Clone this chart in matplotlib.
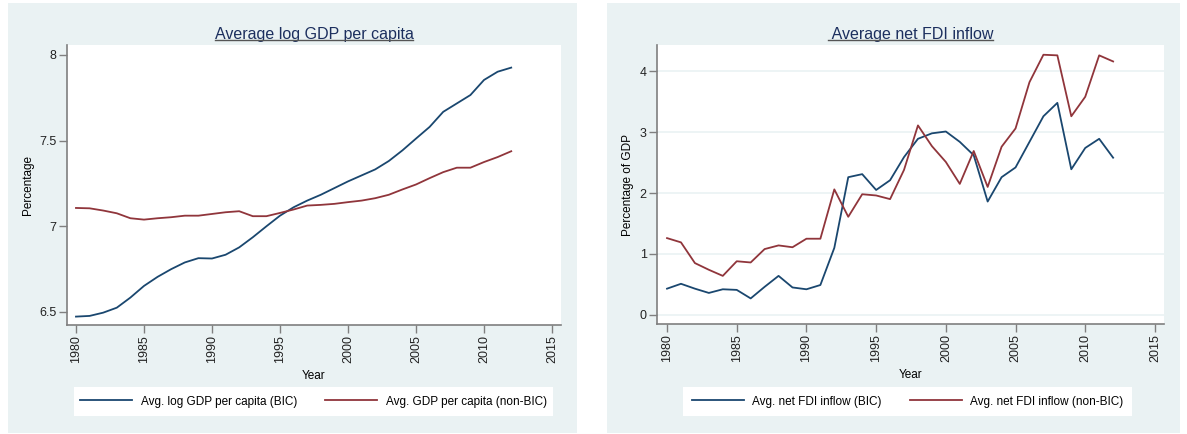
import matplotlib
matplotlib.use("Agg")
import matplotlib.pyplot as plt
from matplotlib.patches import Rectangle
from matplotlib.lines import Line2D

plt.rcParams["font.family"] = ["Liberation Sans", "DejaVu Sans"]

years = list(range(1980, 2013))

gdp_bic = [6.473, 6.477, 6.496, 6.525, 6.584, 6.652, 6.705, 6.750, 6.789, 6.814,
           6.812, 6.834, 6.877, 6.936, 7.000, 7.062, 7.111, 7.150, 7.184, 7.223,
           7.262, 7.297, 7.332, 7.381, 7.443, 7.512, 7.580, 7.668, 7.717, 7.766,
           7.854, 7.902, 7.926]
gdp_nonbic = [7.107, 7.105, 7.092, 7.076, 7.047, 7.039, 7.047, 7.053, 7.062, 7.062,
              7.072, 7.082, 7.088, 7.059, 7.059, 7.078, 7.098, 7.121, 7.125, 7.131,
              7.141, 7.150, 7.164, 7.184, 7.215, 7.244, 7.281, 7.316, 7.342, 7.342,
              7.375, 7.404, 7.438]

fdi_bic = [0.43, 0.51, 0.43, 0.36, 0.42, 0.41, 0.27, 0.46, 0.64, 0.45,
           0.42, 0.49, 1.10, 2.26, 2.31, 2.05, 2.21, 2.59, 2.89, 2.98,
           3.01, 2.84, 2.62, 1.86, 2.26, 2.42, 2.84, 3.26, 3.48, 2.39,
           2.74, 2.89, 2.58]
fdi_nonbic = [1.26, 1.19, 0.85, 0.74, 0.64, 0.88, 0.86, 1.08, 1.14, 1.11,
              1.25, 1.25, 2.06, 1.61, 1.98, 1.96, 1.90, 2.38, 3.11, 2.77,
              2.51, 2.15, 2.69, 2.10, 2.76, 3.06, 3.82, 4.27, 4.26, 3.26,
              3.58, 4.26, 4.16]

x_ticks = [1980, 1985, 1990, 1995, 2000, 2005, 2010, 2015]

NAVY = "#1a476f"
MAROON = "#90353b"
PANEL_BG = "#eaf2f3"
AXIS_GREY = "#7f7f7f"
TITLE_COL = "#1c2f5e"

W, H = 1187, 434
fig = plt.figure(figsize=(W / 100, H / 100), dpi=100)


def fbox(x0, y0, x1, y1):
    # pixel box (top-left origin) -> figure fraction [left, bottom, w, h]
    return [x0 / W, 1 - y1 / H, (x1 - x0) / W, (y1 - y0) / H]


# panel backgrounds, kept under the axes
for x0, x1 in [(8, 577), (607, 1180)]:
    l, b, w, h = fbox(x0, 3, x1, 433)
    fig.patches.append(Rectangle((l, b), w, h, transform=fig.transFigure,
                                 facecolor=PANEL_BG, edgecolor="none", zorder=-2))


def style_axes(ax, xlim, ylim, yticks, grid=False):
    ax.set_zorder(1)
    ax.set_facecolor("white")
    ax.set_xlim(*xlim)
    ax.set_ylim(*ylim)
    ax.set_xticks(x_ticks)
    ax.set_xticklabels([str(t) for t in x_ticks], rotation=90)
    ax.set_yticks(yticks)
    for s in ["top", "right"]:
        ax.spines[s].set_visible(False)
    for s in ["left", "bottom"]:
        ax.spines[s].set_color(AXIS_GREY)
        ax.spines[s].set_linewidth(1.2)
    ax.tick_params(direction="out", length=5.5, width=1, color=AXIS_GREY,
                   labelsize=9, labelcolor="#222222", pad=2)
    if grid:
        ax.yaxis.grid(True, color=PANEL_BG, linewidth=1.2)
        ax.set_axisbelow(True)
    ax.set_xlabel("Year", fontsize=8.5, labelpad=5)


def underlined_title(ax, text):
    return ax.set_title(text, fontsize=11.5, color=TITLE_COL, pad=4)


ax1 = fig.add_axes(fbox(67, 45, 561, 325))
l1, = ax1.plot(years, gdp_bic, color=NAVY, lw=1.3, label="Avg. log GDP per capita (BIC)")
l2, = ax1.plot(years, gdp_nonbic, color=MAROON, lw=1.3, label="Avg. GDP per capita (non-BIC)")
style_axes(ax1, (1979.34, 2015.66), (6.424, 8.058), [6.5, 7, 7.5, 8])
ax1.set_yticklabels(["6.5", "7", "7.5", "8"])
ax1.set_ylabel("Percentage", fontsize=8.5, labelpad=4)
t1 = underlined_title(ax1, "Average log GDP per capita")

ax2 = fig.add_axes(fbox(657, 45, 1164, 324))
r1, = ax2.plot(years, fdi_bic, color=NAVY, lw=1.3, label="Avg. net FDI inflow (BIC)")
r2, = ax2.plot(years, fdi_nonbic, color=MAROON, lw=1.3, label="Avg. net FDI inflow (non-BIC)")
style_axes(ax2, (1979.28, 2015.65), (-0.15, 4.43), [0, 1, 2, 3, 4], grid=True)
ax2.set_ylabel("Percentage of GDP", fontsize=8.5, labelpad=4)
t2 = underlined_title(ax2, " Average net FDI inflow")


def add_legend(handles, x0, x1):
    l, b, w, h = fbox(x0, 387, x1, 416)
    fig.patches.append(Rectangle((l, b), w, h, transform=fig.transFigure,
                                 facecolor="white", edgecolor="none", zorder=-1))
    leg = fig.legend(handles=handles, loc="center",
                     bbox_to_anchor=(l + w / 2, b + h / 2), ncol=2, frameon=False,
                     fontsize=8.5, handlelength=4.4, handletextpad=0.7,
                     columnspacing=2.4, borderaxespad=0)
    for line in leg.get_lines():
        line.set_linewidth(1.3)
    return leg


add_legend([l1, l2], 74, 553)
add_legend([r1, r2], 683, 1132)

# underline the titles, just under the baseline
fig.canvas.draw()
renderer = fig.canvas.get_renderer()
for t in (t1, t2):
    bb = t.get_window_extent(renderer)
    y = (bb.y0 + 2.5) / fig.bbox.height
    fig.lines.append(Line2D([bb.x0 / fig.bbox.width, bb.x1 / fig.bbox.width], [y, y],
                            transform=fig.transFigure, color="#555555", lw=1.0,
                            zorder=3))

fig.savefig("out.png", dpi=100, facecolor="white")
